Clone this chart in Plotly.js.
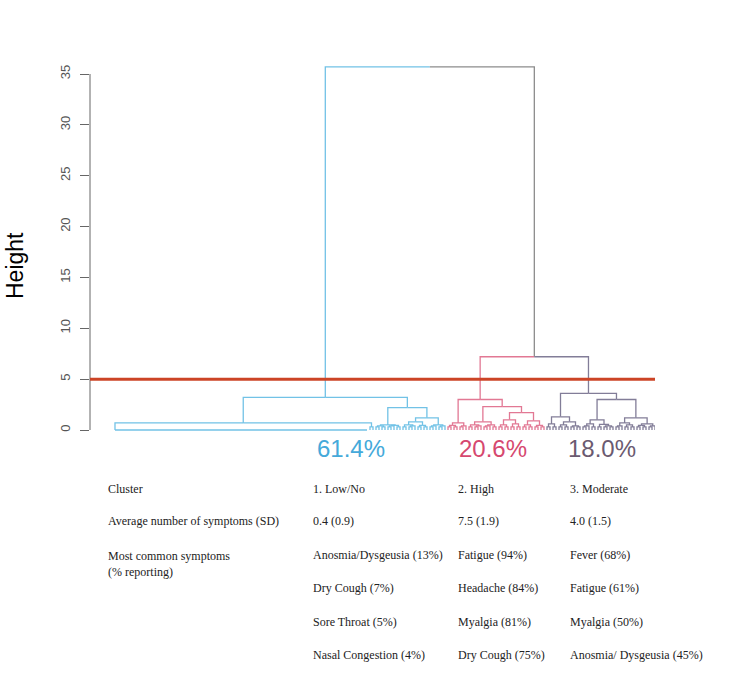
<!DOCTYPE html>
<html>
<head>
<meta charset="utf-8">
<script src="https://cdn.plot.ly/plotly-3.0.1.min.js"></script>
<style>
  html, body { margin: 0; padding: 0; background: #fff; }
  #chart { width: 738px; height: 675px; }
</style>
</head>
<body>
<div id="chart"></div>
<script>
// cluster summary
const clusterNames = ['1. Low/No', '2. High', '3. Moderate'];
const clusterShares = ['61.4%', '20.6%', '18.0%'];
const avgSymptoms = ['0.4 (0.9)', '7.5 (1.9)', '4.0 (1.5)'];
const symptomsLow = ['Anosmia/Dysgeusia (13%)', 'Dry Cough (7%)', 'Sore Throat (5%)', 'Nasal Congestion (4%)'];
const symptomsHigh = ['Fatigue (94%)', 'Headache (84%)', 'Myalgia (81%)', 'Dry Cough (75%)'];
const symptomsModerate = ['Fever (68%)', 'Fatigue (61%)', 'Myalgia (50%)', 'Anosmia/ Dysgeusia (45%)'];
const rowLabels = ['Cluster', 'Average number of symptoms (SD)', 'Most common symptoms<br>(% reporting)'];

const cutHeight = 5;
const yTicks = [0, 5, 10, 15, 20, 25, 30, 35];

// merge tree: [height, left, right]; 0 = one leaf; {same: n} = n identical leaves (height 0)
const t2 = [0.3, 0, 0];
const t3 = [0.4, t2, 0];

const lowTree = [3.2,
  [0.7, {same: 85}, t2],
  [2.2,
    [0.5, [0.4, t2, t2], [0.45, t3, t2]],
    [1.2,
      [0.8, [0.5, t2, t3], [0.45, t2, t2]],
      [0.5, t3, t3]]]];

const highTree = [3.0,
  [0.7, [0.45, t2, t2], t3],
  [2.3,
    [0.8, [0.5, t2, t3], [0.5, t3, t2]],
    [1.7,
      [1.0, [0.5, t2, t2], [0.6, t2, t2]],
      [0.9, [0.5, t2, t2], [0.45, t2, t2]]]]];

const modTree = [3.6,
  [1.3, [0.6, t2, t2], [0.8, [0.5, t2, t2], [0.4, t2, t2]]],
  [3.0,
    [1.0, [0.6, t3, t2], [0.55, t2, [0.4, t2, t2]]],
    [1.2, [0.7, t3, [0.5, t2, t2]], [0.6, [0.45, t2, t2], t3]]]];

const upperTree = [7.2, highTree, modTree];
const rootTree = [35.7, lowTree, upperTree];

const clusterColors = ['#72c2e6', '#e27894', '#827d98'];
const labelColors = ['#45a9da', '#d6486f', '#6b5a70'];
const neutralColor = '#8c8c8c';
const clusterOf = new Map([[lowTree, 0], [highTree, 1], [modTree, 2]]);

// place leaves left to right, node at the middle of its two children
function place(node, state) {
  if (node === 0) {
    return {x: state.next++, h: 0};
  }
  if (!Array.isArray(node)) {
    const x0 = state.next;
    state.next += node.same;
    return {x: x0, h: 0, block: [x0, state.next - 1]};
  }
  const l = place(node[1], state);
  const r = place(node[2], state);
  l.src = node[1];
  r.src = node[2];
  return {x: (l.x + r.x) / 2, h: node[0], kids: [l, r]};
}

const segs = {};
function addSeg(color, xs, ys) {
  if (!segs[color]) segs[color] = {x: [], y: []};
  segs[color].x.push(...xs, null);
  segs[color].y.push(...ys, null);
}

function draw(n, color) {
  if (n.block) {
    addSeg(color, [n.block[0], n.block[1]], [0, 0]);
    return;
  }
  if (!n.kids) return;
  n.kids.forEach(k => {
    let c = color;
    if (clusterOf.has(k.src)) c = clusterColors[clusterOf.get(k.src)];
    addSeg(c, [n.x, k.x, k.x], [n.h, n.h, k.h]);
    draw(k, c);
  });
}

const root = place(rootTree, {next: 0});
draw(root, neutralColor);

const traces = Object.keys(segs).map(c => ({
  x: segs[c].x,
  y: segs[c].y,
  type: 'scatter',
  mode: 'lines',
  line: {color: c, width: 1.3},
  hoverinfo: 'skip',
  showlegend: false
}));

// pixel helpers for the text below the plot
const plotL = 90, plotW = 565, plotB = 440, plotH = 390;
const px = v => (v - plotL) / plotW;
const py = v => (plotB - v) / plotH;

const annotations = [];
annotations.push({
  text: 'Height', xref: 'paper', yref: 'paper', x: px(15), y: py(266),
  xanchor: 'center', yanchor: 'middle',
  textangle: -90, showarrow: false, font: {family: 'Liberation Sans, Arial', size: 23, color: '#000'}
});

const shareX = [351, 493, 602];
clusterShares.forEach((s, i) => annotations.push({
  text: s, xref: 'paper', yref: 'paper', x: px(shareX[i]), y: py(448),
  xanchor: 'center', yanchor: 'middle',
  showarrow: false, font: {family: 'Liberation Sans, Arial', size: 24, color: labelColors[i]}
}));

const tableFont = {family: 'Liberation Serif, Times New Roman', size: 12, color: '#222'};
const colX = [106, 311, 456, 568];
const rowY = [489, 521, 555, 588, 622, 655];
function cell(text, col, y, valign) {
  annotations.push({
    text: text, xref: 'paper', yref: 'paper', x: px(colX[col]), y: py(y),
    xanchor: 'left', yanchor: valign || 'middle', align: 'left',
    showarrow: false, font: tableFont
  });
}
cell(rowLabels[0], 0, rowY[0]);
cell(rowLabels[1], 0, rowY[1]);
cell(rowLabels[2], 0, rowY[2] - 8, 'top');
clusterNames.forEach((t, i) => cell(t, i + 1, rowY[0]));
avgSymptoms.forEach((t, i) => cell(t, i + 1, rowY[1]));
[symptomsLow, symptomsHigh, symptomsModerate].forEach((list, i) => {
  list.forEach((t, j) => cell(t, i + 1, rowY[2 + j]));
});

const layout = {
  width: 738,
  height: 675,
  margin: {l: plotL, r: 738 - plotL - plotW, t: 50, b: 675 - plotB},
  paper_bgcolor: '#fff',
  plot_bgcolor: '#fff',
  xaxis: {visible: false, range: [-8.33, 180], fixedrange: true},
  yaxis: {
    range: [-0.983, 37.36],
    tickvals: yTicks,
    ticktext: yTicks.map(String),
    ticks: 'outside',
    ticklen: 9,
    tickcolor: '#666',
    tickangle: -90,
    ticklabelstandoff: 5,
    tickfont: {family: 'Liberation Sans Narrow, Liberation Sans, Arial', size: 13, color: '#555'},
    showgrid: false,
    zeroline: false,
    showline: false
  },
  shapes: [
    {type: 'line', xref: 'paper', yref: 'y', x0: 0, x1: 0, y0: 0, y1: 35,
     line: {color: '#666', width: 1}},
    {type: 'line', xref: 'paper', yref: 'y', x0: 0, x1: 1, y0: cutHeight, y1: cutHeight,
     line: {color: '#cc4426', width: 3}, layer: 'above'}
  ],
  annotations: annotations
};

Plotly.newPlot('chart', traces, layout, {displayModeBar: false, staticPlot: true});
</script>
</body>
</html>
